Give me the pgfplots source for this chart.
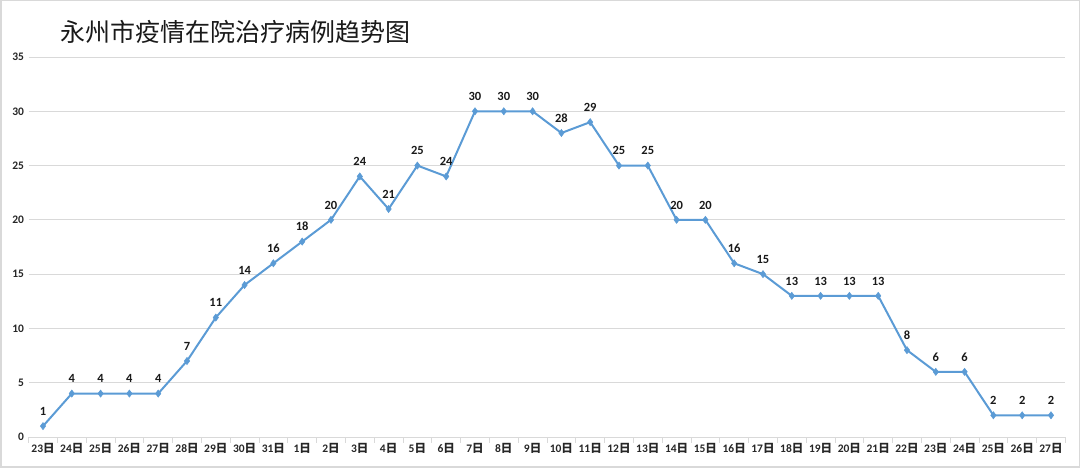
\documentclass[border=0pt]{standalone}
\usepackage{pgfplots}
\pgfplotsset{compat=1.18}
\usepackage{fontspec}
\setmainfont{Carlito}
\newfontfamily\cjk{Noto Sans CJK SC}
\newcommand{\ri}{{\cjk 日}}
\definecolor{lineblue}{HTML}{5B9BD5}
\definecolor{gridgray}{HTML}{D9D9D9}
\begin{document}
\begin{tikzpicture}[x=1pt,y=1pt]
\path[draw=gridgray, line width=1.5pt] (0.75,0.75) rectangle (1079.25,467.25);
\node[anchor=west, font=\cjk\fontsize{25}{30}\selectfont, text=black!90] at (57,436) {永州市疫情在院治疗病例趋势图};
\begin{axis}[
  at={(28.6pt,31pt)}, anchor=south west,
  scale only axis, width=1036.8pt, height=380pt,
  xmin=-0.5, xmax=35.5, ymin=0, ymax=35,
  /pgf/number format/assume math mode=true,
  ytick={0,5,...,35},
  xtick={0,...,35},
  xticklabels={23\ri,24\ri,25\ri,26\ri,27\ri,28\ri,29\ri,30\ri,31\ri,1\ri,2\ri,3\ri,4\ri,5\ri,6\ri,7\ri,8\ri,9\ri,10\ri,11\ri,12\ri,13\ri,14\ri,15\ri,16\ri,17\ri,18\ri,19\ri,20\ri,21\ri,22\ri,23\ri,24\ri,25\ri,26\ri,27\ri},
  minor xtick={-0.5,0.5,...,35.5},
  major tick length=0pt,
  minor tick length=6pt,
  tick align=outside,
  xtick style={color=gridgray, line width=0.8pt},
  ytick style={draw=none},
  axis x line*=bottom,
  axis y line*=left,
  x axis line style={draw=gridgray, line width=0.8pt, -},
  y axis line style={draw=none},
  ymajorgrids, grid style={draw=gridgray, line width=0.8pt},
  ticklabel style={font=\bfseries\fontsize{11.5}{13}\selectfont, text=black!85},
  xticklabel style={yshift=-3pt},
  yticklabel style={xshift=-1pt},
  clip=false,
  nodes near coords,
  every node near coord/.append style={font=\bfseries\fontsize{12.5}{14}\selectfont, text=black!90, yshift=7pt},
]
\addplot[color=lineblue, line width=2pt, mark=diamond*, mark size=3.6pt, mark options={fill=lineblue, draw=lineblue, line width=0.5pt}]
coordinates {
(0,1)(1,4)(2,4)(3,4)(4,4)(5,7)(6,11)(7,14)(8,16)(9,18)(10,20)(11,24)(12,21)(13,25)(14,24)(15,30)(16,30)(17,30)(18,28)(19,29)(20,25)(21,25)(22,20)(23,20)(24,16)(25,15)(26,13)(27,13)(28,13)(29,13)(30,8)(31,6)(32,6)(33,2)(34,2)(35,2)
};
\end{axis}
\end{tikzpicture}
\end{document}
